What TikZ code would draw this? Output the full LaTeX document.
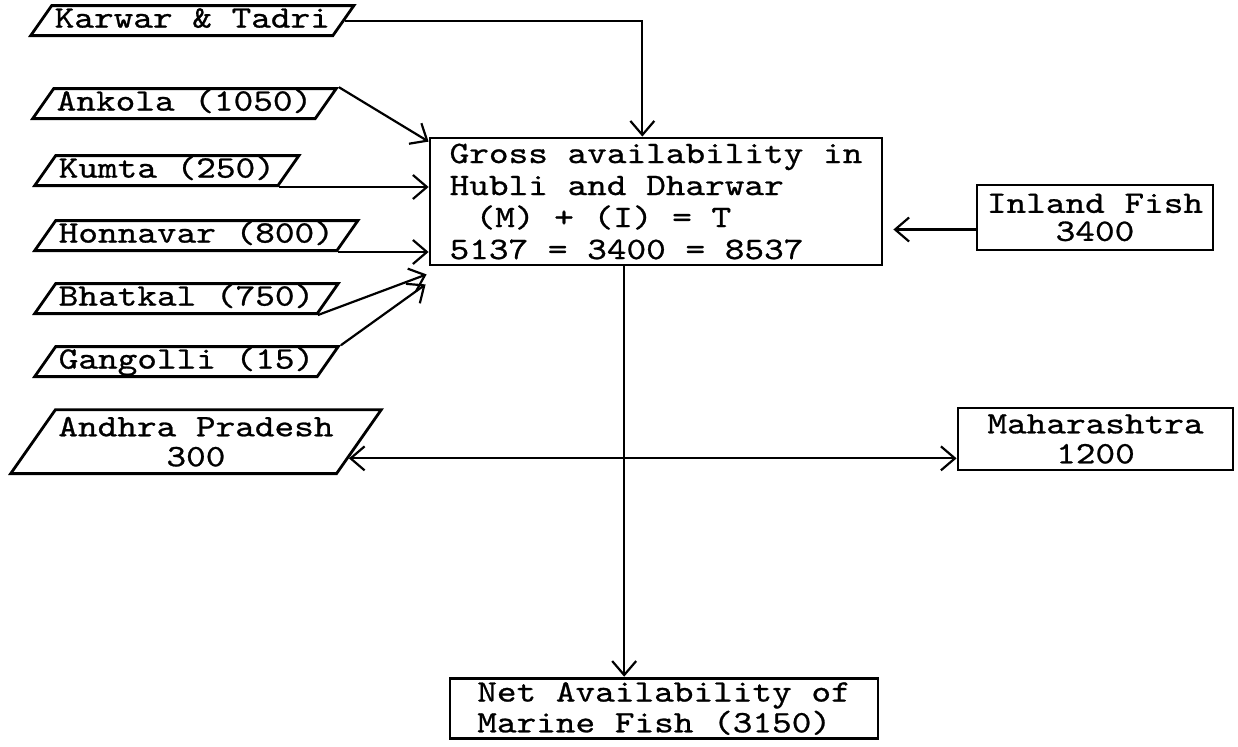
\documentclass[tikz,border=0pt]{standalone}
\usepackage{fontspec}
\usepackage{tikz}
\usetikzlibrary{calc,arrows.meta,shapes.geometric}
\newfontfamily\typewr{lmmono10-regular.otf}[FakeStretch=1.2,FakeBold=0.8]

\begin{document}
\begin{tikzpicture}[x=0.5pt, y=-0.5pt, >={Straight Barb[length=7pt,width=12pt]},
  font=\typewr\fontsize{15.6}{15}\selectfont,
  src/.style={draw, line width=1.4pt, trapezium, trapezium left angle=55, trapezium right angle=125,
              inner xsep=1.5pt, inner ysep=0.5pt, text height=10.5pt, text depth=3.5pt, anchor=bottom left corner},
  box/.style={draw, line width=1.4pt, inner sep=2pt},
  sig/.style={->, line width=1.1pt}]

  \useasboundingbox (0,0) rectangle (1238,746);

  \node[src] (karwar)   at (28,37)  {Karwar \& Tadri};
  \node[src] (ankola)   at (30,120) {Ankola (1050)};
  \node[src] (kumta)    at (32,187) {Kumta (250)};
  \node[src] (honnavar) at (32,252) {Honnavar (800)};
  \node[src] (bhatkal)  at (32,315) {Bhatkal (750)};
  \node[src] (gangolli) at (32,378) {Gangolli (15)};
  \node[src, text height=, text depth=, align=center, inner ysep=3.5pt] (andhra) at (8,475) {Andhra Pradesh\\300};

  \node[box, minimum width=226pt, minimum height=63.5pt, align=left,
        font=\typewr\fontsize{15.6}{16}\selectfont] (gross) at (656,201.5)
       {Gross availability in\\Hubli and Dharwar\\\hspace*{13pt}(M) + (I) = T\\5137 = 3400 = 8537};
  \node[box, minimum width=118pt, minimum height=32.5pt, align=center,
        font=\typewr\fontsize{15.6}{14}\selectfont] (inland) at (1095,217.5) {Inland Fish\\3400};
  \node[box, minimum width=137.5pt, minimum height=31pt, align=center] (maha) at (1095.5,439) {Maharashtra\\1200};
  \node[box, minimum width=214pt, minimum height=28.5pt, align=left,
        font=\typewr\fontsize{15.6}{13}\selectfont] (net) at (664,708.5) {Net Availability of\\Marine Fish (3150)};

  \coordinate (kin) at ($(gross.north west)!0.47!(gross.north east)$);
  \draw[sig] (karwar.right side) -| (kin);
  \draw[sig] (ankola.top right corner) -- ($(gross.north west)+(0,5)$);
  \draw[sig] (kumta.bottom right corner) -- (kumta.bottom right corner -| gross.west);
  \draw[sig] (honnavar.bottom right corner) -- (honnavar.bottom right corner -| gross.west);
  \draw[sig] (bhatkal.bottom right corner) -- ($(gross.south west)+(-2,8)$);
  \draw[sig] (gangolli.top right corner) -- ($(gross.south west)+(-3,18)$);

  \coordinate (fin) at ($(inland.west)+(0,12)$);
  \draw[sig, shorten >=5pt] (fin) -- (fin -| gross.east);

  \coordinate (trunk) at ($(gross.south west)!0.43!(gross.south east)$);
  \draw[sig] (trunk) -- (trunk |- net.north);

  \coordinate (ap) at ($(andhra.right side)!0.5!(andhra.bottom right corner)$);
  \draw[sig, <->] (ap) -- (ap -| maha.west);
\end{tikzpicture}
\end{document}
